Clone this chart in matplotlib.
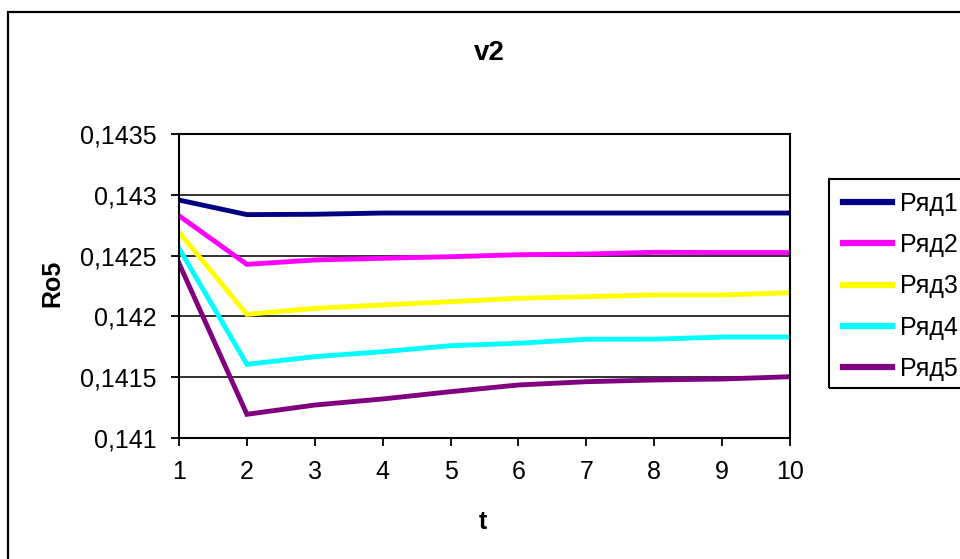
import matplotlib
matplotlib.use("Agg")
import matplotlib.pyplot as plt
from matplotlib.patches import Rectangle

plt.rcParams['font.family'] = ['Liberation Sans', 'DejaVu Sans']

t = [1, 2, 3, 4, 5, 6, 7, 8, 9, 10]
series_names = ['Ряд1', 'Ряд2', 'Ряд3', 'Ряд4', 'Ряд5']
ryad1 = [0.142957, 0.142837, 0.142840, 0.142850, 0.142850, 0.142850, 0.142850, 0.142850, 0.142850, 0.142850]
ryad2 = [0.142828, 0.142428, 0.142464, 0.142478, 0.142491, 0.142507, 0.142513, 0.142527, 0.142525, 0.142525]
ryad3 = [0.142692, 0.142017, 0.142066, 0.142094, 0.142121, 0.142149, 0.142162, 0.142176, 0.142176, 0.142195]
ryad4 = [0.142560, 0.141606, 0.141669, 0.141710, 0.141759, 0.141779, 0.141812, 0.141813, 0.141830, 0.141830]
ryad5 = [0.142437, 0.141195, 0.141271, 0.141321, 0.141381, 0.141436, 0.141463, 0.141477, 0.141485, 0.141504]
colors = ['#000080', '#FF00FF', '#FFFF00', '#00FFFF', '#800080']
yticks = [0.141, 0.1415, 0.142, 0.1425, 0.143, 0.1435]
ytick_labels = ['0,141', '0,1415', '0,142', '0,1425', '0,143', '0,1435']

W, H = 960, 559
fig = plt.figure(figsize=(W / 100, H / 100), dpi=100)
fig.patch.set_facecolor('white')

# outer chart frame (cropped at right and bottom)
frame = Rectangle((7.5 / W, -0.05), 1.2, 1 - 11.5 / H + 0.05, transform=fig.transFigure,
                  fill=False, edgecolor='black', linewidth=1.6, clip_on=False)
fig.patches.append(frame)

ax = fig.add_axes([179 / W, 1 - 438 / H, (790 - 179) / W, (438 - 134) / H])
for s, c, name in zip([ryad1, ryad2, ryad3, ryad4, ryad5], colors, series_names):
    ax.plot(t, s, color=c, linewidth=3.5, label=name, solid_joinstyle='miter')

ax.set_xlim(1, 10)
ax.set_ylim(0.141, 0.1435)
ax.set_xticks(t)
ax.set_xticklabels([str(v) for v in t])
ax.set_yticks(yticks)
ax.set_yticklabels(ytick_labels)
ax.yaxis.grid(True, color='#222222', linewidth=1.3)
ax.set_axisbelow(True)
for sp in ax.spines.values():
    sp.set_color('black')
    sp.set_linewidth(1.5)
ax.tick_params(axis='x', direction='out', length=6, width=1.3, pad=10, labelsize=18)
ax.tick_params(axis='y', direction='out', length=6, width=1.3, pad=10, labelsize=18)

fig.text(489 / W, 1 - 53 / H, 'v2', ha='center', va='center', fontsize=20, fontweight='bold')
fig.text(52 / W, 1 - 283 / H, 'Ro5', ha='center', va='center', rotation=90, fontsize=18, fontweight='bold')
fig.text(483 / W, 1 - 522 / H, 't', ha='center', va='center', fontsize=18, fontweight='bold')

leg = fig.legend(loc='upper left', bbox_to_anchor=(829 / W, 1 - 178 / H), bbox_transform=fig.transFigure,
                 fontsize=18, frameon=False, borderaxespad=0, borderpad=0.55,
                 handlelength=1.95, handletextpad=0.32, labelspacing=0.69)
for line in leg.get_lines():
    line.set_linewidth(4.5)

# legend box (cropped at the right edge like the reference)
legbox = Rectangle((829 / W, 1 - 388 / H), 0.2, (388 - 179) / H, transform=fig.transFigure,
                   fill=False, edgecolor='black', linewidth=1.5, clip_on=False)
fig.patches.append(legbox)

fig.savefig('out.png', dpi=100)
